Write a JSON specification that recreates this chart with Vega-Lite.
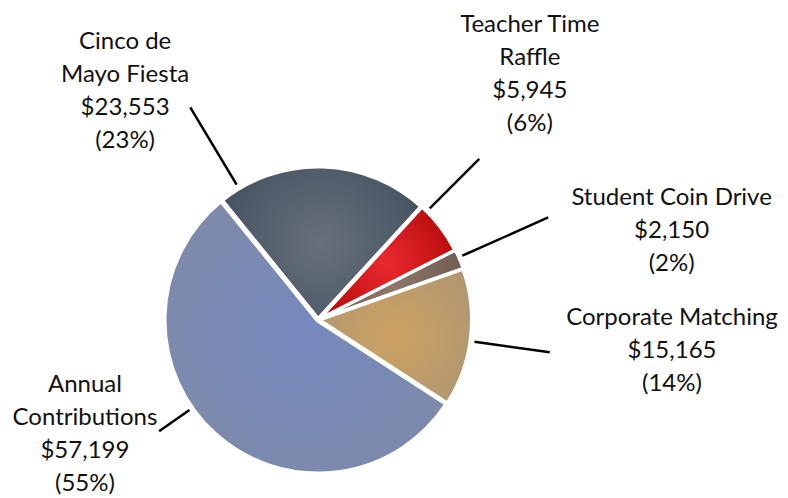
{
  "$schema": "https://vega.github.io/schema/vega-lite/v6.json",
  "autosize": "none",
  "width": 636,
  "height": 356,
  "padding": {"left": 0, "top": 142, "right": 152, "bottom": 0},
  "background": "#ffffff",
  "config": {"view": {"stroke": null}, "text": {"font": "Lato", "fontSize": 24, "lineHeight": 33, "color": "#111111", "lineBreak": "\n"}},
  "data": {
    "values": [
      {"source": "Cinco de Mayo Fiesta", "value": 23553, "label": "Cinco de\nMayo Fiesta\n$23,553\n(23%)"},
      {"source": "Teacher Time Raffle", "value": 5945, "label": "Teacher Time\nRaffle\n$5,945\n(6%)"},
      {"source": "Student Coin Drive", "value": 2150, "label": "Student Coin Drive\n$2,150\n(2%)"},
      {"source": "Corporate Matching", "value": 15165, "label": "Corporate Matching\n$15,165\n(14%)"},
      {"source": "Annual Contributions", "value": 57199, "label": "Annual\nContributions\n$57,199\n(55%)"}
    ]
  },
  "transform": [{"stack": "value", "groupby": [], "as": ["t0", "t1"]}],
  "encoding": {
    "theta": {"field": "t0", "type": "quantitative", "scale": {"domain": [0, 104012], "range": [-0.6807, 5.6025]}}
  },
  "layer": [
    {"transform": [{"filter": "datum.source === 'Cinco de Mayo Fiesta'"}],
     "mark": {"type": "arc", "radius": 154, "stroke": "#ffffff", "strokeWidth": 5,
       "fill": {"gradient": "radial", "x1": 0.5, "y1": 0.5, "r1": 0, "x2": 0.5, "y2": 0.5, "r2": 0.6, "stops": [{"offset": 0, "color": "#67717d"}, {"offset": 1, "color": "#434e5d"}]}},
     "encoding": {"theta2": {"field": "t1"}}},
    {"transform": [{"filter": "datum.source === 'Teacher Time Raffle'"}],
     "mark": {"type": "arc", "radius": 154, "stroke": "#ffffff", "strokeWidth": 4,
       "fill": {"gradient": "radial", "x1": 0.5, "y1": 0.5, "r1": 0, "x2": 0.5, "y2": 0.5, "r2": 0.6, "stops": [{"offset": 0, "color": "#ea2a30"}, {"offset": 1, "color": "#b00808"}]}},
     "encoding": {"theta2": {"field": "t1"}}},
    {"transform": [{"filter": "datum.source === 'Student Coin Drive'"}],
     "mark": {"type": "arc", "radius": 154, "stroke": "#ffffff", "strokeWidth": 3,
       "fill": {"gradient": "radial", "x1": 0.5, "y1": 0.5, "r1": 0, "x2": 0.5, "y2": 0.5, "r2": 0.6, "stops": [{"offset": 0, "color": "#8e776b"}, {"offset": 1, "color": "#6c5a50"}]}},
     "encoding": {"theta2": {"field": "t1"}}},
    {"transform": [{"filter": "datum.source === 'Corporate Matching'"}],
     "mark": {"type": "arc", "radius": 154, "stroke": "#ffffff", "strokeWidth": 4,
       "fill": {"gradient": "radial", "x1": 0.5, "y1": 0.5, "r1": 0, "x2": 0.5, "y2": 0.5, "r2": 0.6, "stops": [{"offset": 0, "color": "#cca263"}, {"offset": 1, "color": "#b09672"}]}},
     "encoding": {"theta2": {"field": "t1"}}},
    {"transform": [{"filter": "datum.source === 'Annual Contributions'"}],
     "mark": {"type": "arc", "radius": 154, "stroke": "#ffffff", "strokeWidth": 5,
       "fill": {"gradient": "radial", "x1": 0.5, "y1": 0.5, "r1": 0, "x2": 0.5, "y2": 0.5, "r2": 0.6, "stops": [{"offset": 0, "color": "#7689be"}, {"offset": 1, "color": "#7e8aa9"}]}},
     "encoding": {"theta2": {"field": "t1"}}},

    {"transform": [{"filter": "datum.source === 'Cinco de Mayo Fiesta'"}],
     "mark": {"type": "arc", "radius": 248, "radius2": 158, "stroke": "#000000", "strokeWidth": 2.5, "fill": null, "thetaOffset": 0.1396, "theta2Offset": 0.1396},
     "encoding": {"theta2": {"field": "t0"}}},
    {"transform": [{"filter": "datum.source === 'Teacher Time Raffle'"}],
     "mark": {"type": "arc", "radius": 228, "radius2": 158, "stroke": "#000000", "strokeWidth": 2.5, "fill": null, "thetaOffset": 0.0436, "theta2Offset": 0.0436},
     "encoding": {"theta2": {"field": "t0"}}},
    {"transform": [{"filter": "datum.source === 'Student Coin Drive'"}],
     "mark": {"type": "arc", "radius": 252, "radius2": 158, "stroke": "#000000", "strokeWidth": 2.5, "fill": null, "thetaOffset": 0.0506, "theta2Offset": 0.0506},
     "encoding": {"theta2": {"field": "t0"}}},
    {"transform": [{"filter": "datum.source === 'Corporate Matching'"}],
     "mark": {"type": "arc", "radius": 234, "radius2": 158, "stroke": "#000000", "strokeWidth": 2.5, "fill": null, "thetaOffset": 0.478, "theta2Offset": 0.478},
     "encoding": {"theta2": {"field": "t0"}}},
    {"transform": [{"filter": "datum.source === 'Annual Contributions'"}],
     "mark": {"type": "arc", "radius": 194, "radius2": 157, "stroke": "#000000", "strokeWidth": 2.5, "fill": null, "thetaOffset": 1.954, "theta2Offset": 1.954},
     "encoding": {"theta2": {"field": "t0"}}},

    {"transform": [{"filter": "datum.source === 'Cinco de Mayo Fiesta'"}],
     "mark": {"type": "text", "radius": 338, "thetaOffset": 0.0733, "align": "center", "baseline": "middle"},
     "encoding": {"text": {"field": "label"}}},
    {"transform": [{"filter": "datum.source === 'Teacher Time Raffle'"}],
     "mark": {"type": "text", "radius": 363, "thetaOffset": -0.119, "align": "center", "baseline": "middle"},
     "encoding": {"text": {"field": "label"}}},
    {"transform": [{"filter": "datum.source === 'Student Coin Drive'"}],
     "mark": {"type": "text", "radius": 374, "thetaOffset": 0.1379, "align": "center", "baseline": "middle"},
     "encoding": {"text": {"field": "label"}}},
    {"transform": [{"filter": "datum.source === 'Corporate Matching'"}],
     "mark": {"type": "text", "radius": 354, "thetaOffset": 0.3344, "align": "center", "baseline": "middle"},
     "encoding": {"text": {"field": "label"}}},
    {"transform": [{"filter": "datum.source === 'Annual Contributions'"}],
     "mark": {"type": "text", "radius": 242, "thetaOffset": 2.2928, "align": "center", "baseline": "middle"},
     "encoding": {"text": {"field": "label"}}}
  ]
}
